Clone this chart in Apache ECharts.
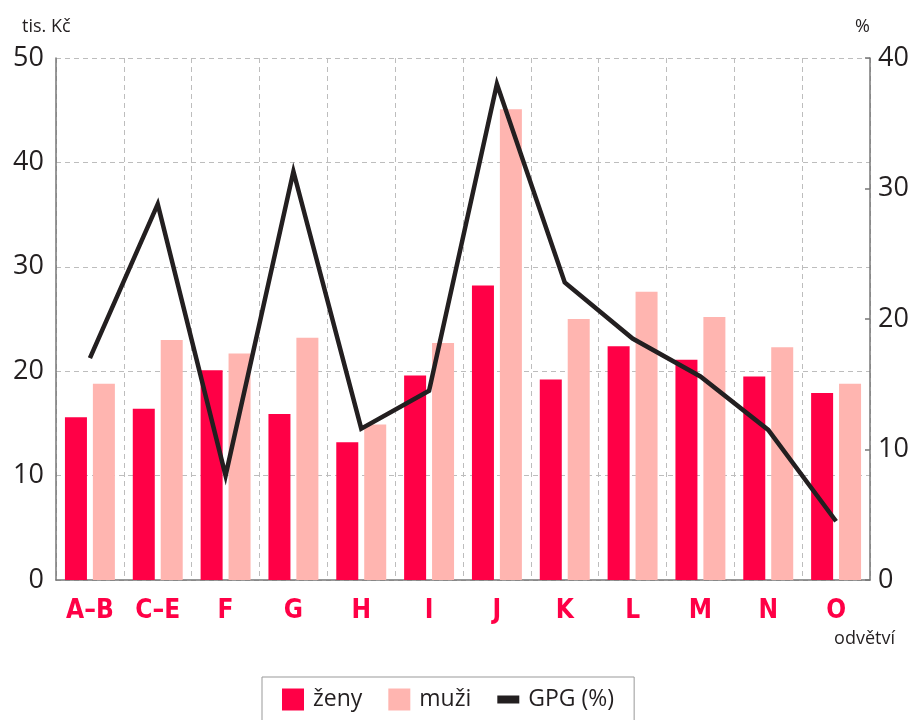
<!DOCTYPE html>
<html>
<head>
<meta charset="utf-8">
<script src="https://cdn.jsdelivr.net/npm/echarts@6/dist/echarts.min.js"></script>
<style>
	html, body { margin: 0; padding: 0; background: #fff; }
	#chart { width: 915px; height: 720px; }
</style>
</head>
<body>
<div id="chart"></div>
<script>
// odvětví
var categories = ['A–B', 'C–E', 'F', 'G', 'H', 'I', 'J', 'K', 'L', 'M', 'N', 'O'];
// tis. Kč
var zeny = [15.6, 16.4, 20.1, 15.9, 13.2, 19.6, 28.2, 19.2, 22.4, 21.1, 19.5, 17.9];
var muzi = [18.8, 23.0, 21.7, 23.2, 14.9, 22.7, 45.1, 25.0, 27.6, 25.2, 22.3, 18.8];
// %
var gpg = [17.0, 28.8, 8.0, 31.3, 11.6, 14.5, 38.0, 22.8, 18.5, 15.6, 11.5, 4.5];

var txt = '#231f20';
var gridColor = '#bdbdbd';
var numFont = '"Open Sans", "Noto Sans", sans-serif';

var chart = echarts.init(document.getElementById('chart'));
var option = {
	backgroundColor: '#fff',
	animation: false,
	textStyle: { fontFamily: numFont, color: txt },
	grid: { left: 56, right: 45, top: 58, bottom: 140 },
	legend: {
		left: 262,
		top: 677,
		padding: [11, 20, 12, 20],
		borderColor: '#999',
		borderWidth: 1,
		itemWidth: 22,
		itemHeight: 22,
		itemGap: 26,
		textStyle: { fontSize: 23, color: txt, fontFamily: numFont, padding: [0, 0, 0, 4] },
		data: [
			{ name: 'ženy', icon: 'rect' },
			{ name: 'muži', icon: 'rect' },
			{ name: 'GPG (%)', icon: 'path://M0,0 L0,0 M0,7 L22,7 L22,15 L0,15 Z M22,22 L22,22' }
		]
	},
	xAxis: {
		type: 'category',
		data: categories,
		axisLine: { lineStyle: { color: '#777', width: 1.5 } },
		axisTick: { show: false },
		splitLine: { show: true, lineStyle: { color: gridColor, type: [5, 4] } },
		axisLabel: {
			color: '#ff0046',
			fontSize: 26,
			fontWeight: 'bold',
			fontFamily: '"DejaVu Sans Condensed", "Liberation Sans Narrow", sans-serif',
			margin: 18
		},
		name: 'odvětví',
		nameLocation: 'end',
		nameGap: 0,
		nameTextStyle: {
			fontSize: 18,
			color: txt,
			align: 'right',
			verticalAlign: 'top',
			padding: [50, -25, 0, 0]
		}
	},
	yAxis: [{
		type: 'value',
		min: 0,
		max: 50,
		interval: 10,
		axisLine: { show: true, lineStyle: { color: '#777', width: 1.5 } },
		axisTick: { show: false },
		splitLine: { show: true, lineStyle: { color: gridColor, type: [5, 4] } },
		axisLabel: { color: txt, fontSize: 27, margin: 12 },
		name: 'tis. Kč',
		nameLocation: 'end',
		nameGap: 22,
		nameTextStyle: { fontSize: 18, color: txt, align: 'left', padding: [0, 0, 0, -34] }
	}, {
		type: 'value',
		min: 0,
		max: 40,
		interval: 10,
		position: 'right',
		axisLine: { show: true, lineStyle: { color: '#777', width: 1.5 } },
		axisTick: { show: true, inside: true, length: 5, lineStyle: { color: '#777', width: 1.5 } },
		splitLine: { show: false },
		axisLabel: { color: txt, fontSize: 27, margin: 8 },
		name: '%',
		nameLocation: 'end',
		nameGap: 22,
		nameTextStyle: { fontSize: 18, color: txt, align: 'right', padding: [0, 0, 0, 0] }
	}],
	series: [{
		name: 'ženy',
		type: 'bar',
		data: zeny,
		barWidth: 22,
		barGap: '27%',
		itemStyle: { color: '#ff0046' }
	}, {
		name: 'muži',
		type: 'bar',
		data: muzi,
		barWidth: 22,
		itemStyle: { color: '#ffb5b0' }
	}, {
		name: 'GPG (%)',
		type: 'line',
		yAxisIndex: 1,
		data: gpg,
		symbol: 'none',
		lineStyle: { color: txt, width: 4.5, join: 'miter' },
		itemStyle: { color: txt }
	}]
};
chart.setOption(option);
</script>
</body>
</html>
